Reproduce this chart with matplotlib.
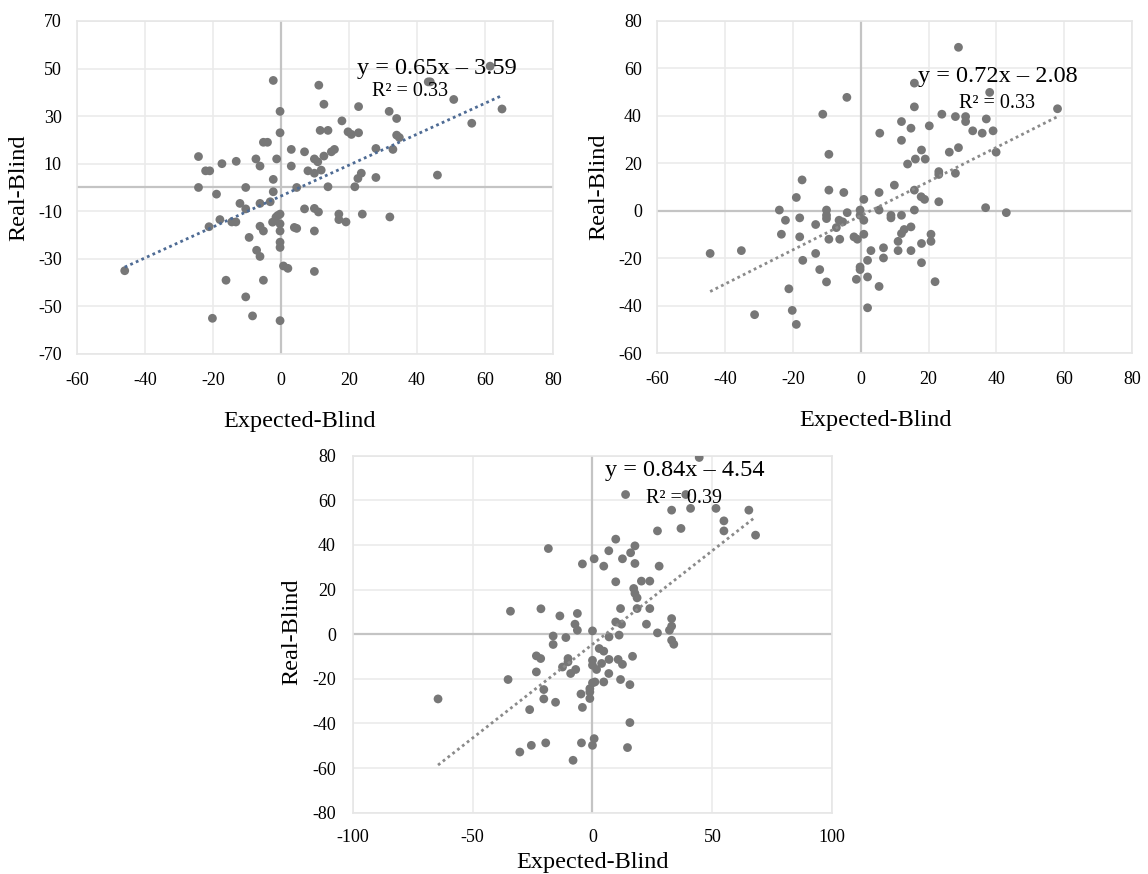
import numpy as np
import matplotlib
matplotlib.use("Agg")
import matplotlib.pyplot as plt

plt.rcParams['font.family'] = ['Liberation Serif', 'DejaVu Serif']
plt.rcParams['axes.unicode_minus'] = False

# panel 1 (top left)
x1 = [-46, -24.3, -24.3, -22.2, -21, -21.2, -20.2, -19, -18, -17.4, -16.2, -14.5, -13.3, -13.2,
      -12.1, -10.4, -10.4, -10.4, -9.4, -8.4, -7.4, -7.2, -6.2, -6.2, -6.2, -6.2, -5.2, -5.2,
      -5.2, -4, -3.2, -2.5, -2.3, -2.3, -2.3, -1.5, -1.3, -1, -0.3, -0.3, -0.3, -0.3, -0.3,
      -0.3, -0.3, -0.3, 0.7, 2, 3, 3, 3.9, 4.6, 4.6, 6.9, 6.9, 7.9, 9.8, 9.8, 9.8, 9.8, 9.8,
      10.8, 11, 11.1, 11.5, 11.8, 12.6, 12.6, 13.8, 13.8, 14.8, 15.7, 17, 17, 17.9, 19.1, 19.7,
      20.7, 21.7, 22.6, 22.8, 22.8, 23.6, 23.9, 27.9, 27.9, 31.8, 32, 32.9, 34, 34, 34.8, 43.3,
      43.9, 46, 50.8, 56.1, 61.5, 65]
y1 = [-35, 13, 0, 7, 7, -16.5, -55, -2.8, -13.5, 10, -39, -14.5, -14.5, 11,
      -6.7, 0, -9, -46, -21, -54, 12, -26.4, 9, -6.7, -16.3, -29, 19, -18.3,
      -39, 19, -6, -14.6, 45, 3.4, -1.8, -12.5, 12, -11.8, 32, 23, -11.2, -15.3, -18.3,
      -23, -25.2, -56, -33, -34, 16, 9, -16.8, -17.2, 0, 15, -9, 7, 12, 6, -8.8, -18.3, -35.3,
      10.8, -10.3, 43, 24, 7.3, 35, 13.2, 24, 0.3, 15, 16, -11.2, -13.5, 28, -14.5, 23.4,
      22.3, 0.3, 3.8, 34, 23, 6, -11.2, 16.4, 4.2, 32, -12.4, 16, 29, 22, 21, 44.4,
      44.4, 5.2, 37, 27, 51, 33]

# panel 2 (top right)
x2 = [-44.4, -35.2, -31.3, -24, -23.4, -22.2, -21.2, -20.2, -19, -19, -18, -18, -17.3, -17.1,
      -13.3, -13.3, -12.1, -11.2, -10.1, -10.1, -10.1, -10.1, -9.4, -9.4, -9.4, -7.2, -6.4, -6.2,
      -5.3, -5, -4.1, -4, -2, -1.3, -1, -0.2, -0.2, -0.2, -0.2, 0.9, 0.9, 0.9, 2, 2, 2, 3, 5.4,
      5.4, 5.4, 5.6, 6.7, 6.7, 8.9, 8.9, 9.9, 11, 11, 12, 12, 12, 12, 12.8, 13.8, 14.8, 14.8,
      14.8, 15.8, 15.8, 15.8, 15.8, 16.1, 17.8, 17.9, 17.9, 17.9, 18.8, 19, 20.2, 20.7, 20.7,
      21.9, 23, 23, 23, 23.9, 26.1, 27.9, 27.9, 28.8, 28.8, 30.9, 30.9, 33, 35.8, 36.8, 37, 38,
      39, 39.9, 42.9, 58]
y2 = [-18, -16.8, -43.8, 0.3, -9.9, -4, -32.9, -42, 5.6, -47.9, -3, -11, 13, -20.9,
      -5.8, -18, -24.8, 40.7, 0.3, -1.9, -3.3, -30, 23.8, 8.7, -12, -7.1, -4, -12,
      -4.7, 7.7, 47.8, -0.8, -11, -28.9, -12, 0.3, -1.9, -23.7, -24.8, 4.8, -4, -9.9, -20.9, -27.9,
      -40.9, -16.8, 7.7, 0.3, -31.9, 32.7, -15.6, -19.9, -1.9, -3, 10.8, -12.9, -16.8, 37.6, 29.7,
      -1.9, -9.6, -7.9, 19.7, 34.8, -6.8, -16.8, 53.8, 43.8, 8.7, 0.3, 21.8, 5.9, 25.6, -13.8,
      -21.9, 4.8, 21.8, 35.8, -9.9, -12.9, -29.9, 16.5, 15.3, 3.8, 40.7, 24.7, 39.7, 15.8, 68.9,
      26.6, 39.7, 37.6, 33.7, 32.7, 1.3, 38.7, 49.9, 33.7, 24.7, -0.8, 43]

# panel 3 (bottom)
x3 = [-64.4, -35.2, -34.2, -30.3, -26.2, -25.5, -23.4, -23.4, -21.6, -21.5, -20.3, -20.3, -19.5,
      -18.4, -16.4, -16.4, -15.4, -13.6, -12.5, -11.1, -10.2, -10.2, -9.1, -8.1, -7.3, -7, -6.3,
      -6.3, -4.8, -4.6, -4.2, -4.2, -1.1, -1.1, -1.1, 0, 0, 0, 0, 0, 0.7, 0.7, 1, 1.7, 2.8, 3.8,
      4.7, 4.7, 4.7, 6.8, 6.8, 6.9, 6.9, 9.7, 9.7, 9.7, 10.7, 11.1, 11.7, 11.7, 12.1, 12.5, 12.5,
      13.8, 14.6, 15.6, 15.6, 15.9, 16.7, 17.2, 17.7, 17.7, 17.7, 18.6, 18.6, 20.4, 22.5, 23.9,
      23.9, 27.1, 27.1, 27.8, 32.1, 33, 33, 33, 33, 33.9, 36.9, 38.9, 40.9, 44.5, 51.5, 54.8,
      54.8, 65.2, 68]
y3 = [-29, -20.3, 10.3, -52.8, -33.8, -49.8, -9.7, -16.9, -10.9, 11.4, -24.8, -29, -48.7,
      38.4, -0.8, -4.6, -30.5, 8.2, -14.7, -1.5, -10.9, -12.4, -17.6, -56.5, 4.5, -15.8, 9.3,
      1.8, -26.8, -48.7, 31.5, -32.8, -24.4, -25.9, -28.8, 1.5, -11.7, -13.9, -21.8, -49.8, 33.8,
      -46.8, -21.4, -15.8, -6.4, -13.1, 30.5, -7.6, -21.4, 37.4, -17.6, -1.2, -11.3, 42.6, 23.5,
      5.5, -11.3, -0.4, 11.5, -20.3, 4.5, 33.8, -13.5, 62.6, -50.8, -22.6, -39.6, 36.5, -9.9,
      20.5, 39.6, 31.7, 18.3, 16.3, 11.5, 23.8, 4.5, 23.8, 11.5, 46.3, 0.6, 30.5, 1.8, 55.6, 7,
      3.6, -2.7, -4.5, 47.4, 62.6, 56.4, 79.2, 56.4, 50.8, 46.3, 55.6, 44.4]

slopes = [0.65, 0.72, 0.84]
intercepts = [-3.59, -2.08, -4.54]
eq_texts = ["y = 0.65x \u2013 3.59", "y = 0.72x \u2013 2.08", "y = 0.84x \u2013 4.54"]
r2_texts = ["R\u00b2 = 0.33", "R\u00b2 = 0.33", "R\u00b2 = 0.39"]
trend_colors = ['#4e6b94', '#8a8a8a', '#8a8a8a']

fig = plt.figure(figsize=(11.48, 8.74), dpi=100)
ax1 = fig.add_axes([0.0672, 0.595, 0.4145, 0.381])
ax2 = fig.add_axes([0.5725, 0.596, 0.4137, 0.380])
ax3 = fig.add_axes([0.3072, 0.0701, 0.4178, 0.4085])

panels = [
    (ax1, x1, y1, (-60, 80, 20), (-70, 70, 20), (45.9, 50.2), (37.9, 40.5)),
    (ax2, x2, y2, (-60, 80, 20), (-60, 80, 20), (40.3, 56.7), (40.3, 45.4)),
    (ax3, x3, y3, (-100, 100, 50), (-80, 80, 20), (38.5, 73.2), (38.0, 60.9)),
]

for i, (ax, xs, ys, xr, yr, eq_pos, r2_pos) in enumerate(panels):
    xs = np.array(xs)
    ys = np.array(ys)
    ax.set_xlim(xr[0], xr[1])
    ax.set_ylim(yr[0], yr[1])
    ax.set_xticks(np.arange(xr[0], xr[1] + 1, xr[2]))
    ax.set_yticks(np.arange(yr[0], yr[1] + 1, yr[2]))
    ax.grid(True, color='#ebebeb', lw=1.2, zorder=0)
    ax.set_axisbelow(True)
    for s in ax.spines.values():
        s.set_color('#e6e6e6')
        s.set_linewidth(1.2)
    ax.axhline(0, color='#c4c4c4', lw=1.6, zorder=1)
    ax.axvline(0, color='#c4c4c4', lw=1.6, zorder=1)

    ax.scatter(xs, ys, s=40, color='#777777', edgecolors='none', zorder=3)

    # trend line from the printed equation
    lx = np.array([xs.min(), xs.max()])
    ax.plot(lx, slopes[i] * lx + intercepts[i], color=trend_colors[i], lw=2,
            linestyle=(0, (1, 1.2)), zorder=4)

    ax.text(eq_pos[0], eq_pos[1], eq_texts[i], fontsize=17.5, ha='center', va='center', zorder=5)
    ax.text(r2_pos[0], r2_pos[1], r2_texts[i], fontsize=14.5, ha='center', va='center', zorder=5)

    ax.tick_params(length=0, labelsize=13, colors='black')
    ax.set_xlabel("Expected-Blind", fontsize=17.5)
    ax.set_ylabel("Real-Blind", fontsize=17.5)

ax1.tick_params(axis='x', pad=13)
ax1.tick_params(axis='y', pad=11)
ax2.tick_params(axis='x', pad=13)
ax2.tick_params(axis='y', pad=11)
ax3.tick_params(axis='x', pad=12)
ax3.tick_params(axis='y', pad=12)

ax1.xaxis.set_label_coords(0.467, -0.172)
ax1.yaxis.set_label_coords(-0.10, 0.5)
ax2.xaxis.set_label_coords(0.46, -0.172)
ax2.yaxis.set_label_coords(-0.101, 0.5)
ax3.xaxis.set_label_coords(0.501, -0.11)
ax3.yaxis.set_label_coords(-0.106, 0.506)

fig.savefig("out.png", dpi=100)
